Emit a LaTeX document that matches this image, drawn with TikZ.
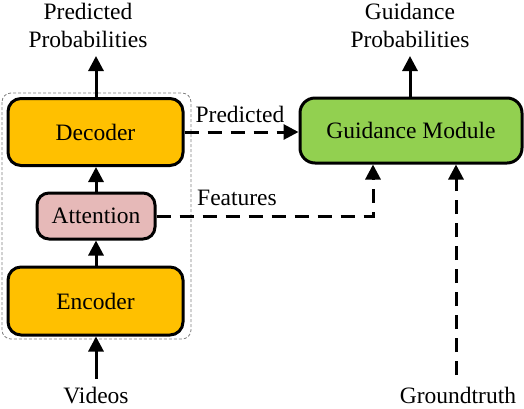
\documentclass[tikz,border=0pt]{standalone}
\usepackage{fontspec}
\setmainfont{Liberation Serif}
\usetikzlibrary{arrows.meta}
\definecolor{encfill}{HTML}{FFC000}
\definecolor{attfill}{HTML}{E6B9B8}
\definecolor{guidfill}{HTML}{92D050}
\begin{document}
\begin{tikzpicture}[x=1pt,y=-1pt,
  every node/.style={font=\fontsize{23.5}{28}\selectfont, inner sep=0pt},
  blockbox/.style={draw=black, line width=3pt, rounded corners=13pt, align=center},
  arr/.style={line width=3pt, -{Triangle[length=15pt,width=15pt]}},
  darr/.style={line width=3pt, dash pattern=on 14pt off 9pt, -{Triangle[length=15pt,width=15pt]}},
  lbl/.style={anchor=base, align=center}]
\useasboundingbox (0,0) rectangle (524,408);
% group box
\draw[gray, line width=0.8pt, dash pattern=on 3pt off 2pt, rounded corners=9pt] (2,93) rectangle (191,339);
% blocks
\node[blockbox, fill=encfill, minimum width=175pt, minimum height=67pt] (dec) at (95.5,132) {Decoder};
\node[blockbox, fill=attfill, minimum width=118pt, minimum height=46pt, rounded corners=12pt] (att) at (96,216) {Attention};
\node[blockbox, fill=encfill, minimum width=175pt, minimum height=68pt] (enc) at (95.5,301) {Encoder};
\node[blockbox, fill=guidfill, minimum width=222pt, minimum height=65pt, rounded corners=15pt] (gm) at (411,130.5) {Guidance Module};
% texts
\node[lbl] (pp) at (88,19) {Predicted};
\node[lbl] (pp2) at (88,47) {Probabilities};
\node[lbl] (gp) at (410,19) {Guidance};
\node[lbl] (gp2) at (410,47) {Probabilities};
\node[lbl] (vid) at (96,403) {Videos};
\node[lbl] (gt) at (458,403) {Groundtruth};
\node[lbl] (lp) at (240,122) {Predicted};
\node[lbl] (lf) at (237,205) {Features};
% coordinates
\coordinate (pptip) at (96,56);
\coordinate (gptip) at (410,56);
\coordinate (vidstart) at (96,379);
\coordinate (gtstart) at (456,375);
\coordinate (fcorner) at (373,216);
% connectors
\draw[arr] (dec.north -| pptip) -- (pptip);
\draw[arr] (att.north) -- (att.north |- dec.south);
\draw[arr] (enc.north -| att.north) -- (att.south);
\draw[arr] (vidstart) -- (vidstart |- enc.south);
\draw[arr] (gm.north -| gptip) -- (gptip);
\draw[darr] (dec.east |- 0,132) -- (gm.west |- 0,132);
\draw[darr] (att.east) -- (fcorner) -- (fcorner |- gm.south);
\draw[darr] (gtstart) -- (gtstart |- gm.south);
\end{tikzpicture}
\end{document}
